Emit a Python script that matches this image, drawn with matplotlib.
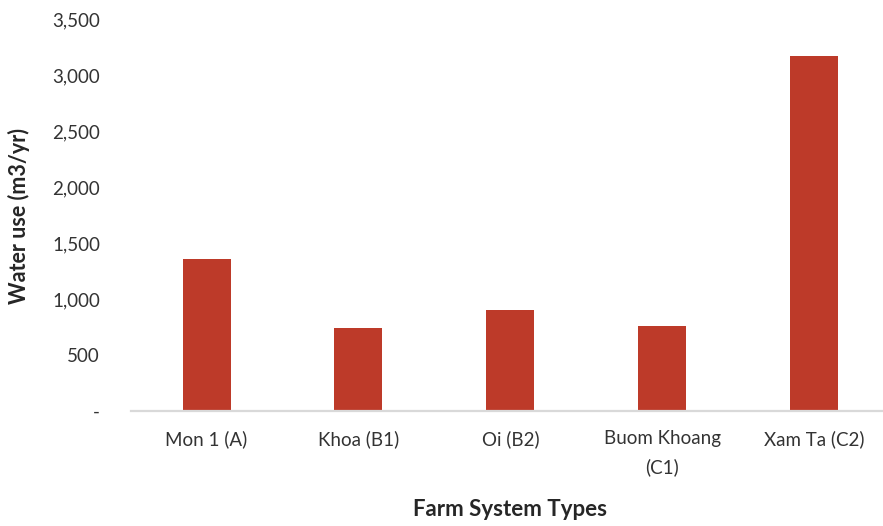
import matplotlib
matplotlib.use("Agg")
import matplotlib.pyplot as plt
from matplotlib.ticker import FuncFormatter

# Annual water use per farm system type
categories = ["Mon 1 (A)", "Khoa (B1)", "Oi (B2)", "Buom Khoang\n(C1)", "Xam Ta (C2)"]
water_use = [1357, 738, 905, 762, 3170]
y_ticks = [0, 500, 1000, 1500, 2000, 2500, 3000, 3500]

plt.rcParams["font.family"] = ["Lato", "DejaVu Sans"]

fig = plt.figure(figsize=(8.83, 5.26), dpi=100)
ax = fig.add_axes([0.148, 0.2186, 0.852, 0.7454])

x = list(range(len(categories)))
ax.bar(x, water_use, width=0.316, color="#BD3A29", zorder=2)

ax.set_xlim(-0.5, 4.454)
ax.set_ylim(0, 3500)
ax.set_yticks(y_ticks)
ax.yaxis.set_major_formatter(FuncFormatter(lambda v, p: "-" if v == 0 else f"{int(v):,}"))
ax.set_xticks(x)
ax.set_xticklabels(categories, linespacing=1.75)

for side in ["top", "right", "left"]:
    ax.spines[side].set_visible(False)
ax.spines["bottom"].set_color("#D9D9D9")
ax.spines["bottom"].set_linewidth(1.6)

ax.tick_params(axis="y", length=0, pad=22, labelsize=13.5, labelcolor="#333333")
ax.tick_params(axis="x", length=0, pad=14, labelsize=13.5, labelcolor="#333333")

fig.text(0.021, 0.59, "Water use (m3/yr)", rotation=90, ha="center", va="center",
         fontsize=15.5, fontweight="bold", color="#262626")
fig.text(0.578, 0.031, "Farm System Types", ha="center", va="center",
         fontsize=16, fontweight="bold", color="#262626")

fig.savefig("out.png", dpi=100)
